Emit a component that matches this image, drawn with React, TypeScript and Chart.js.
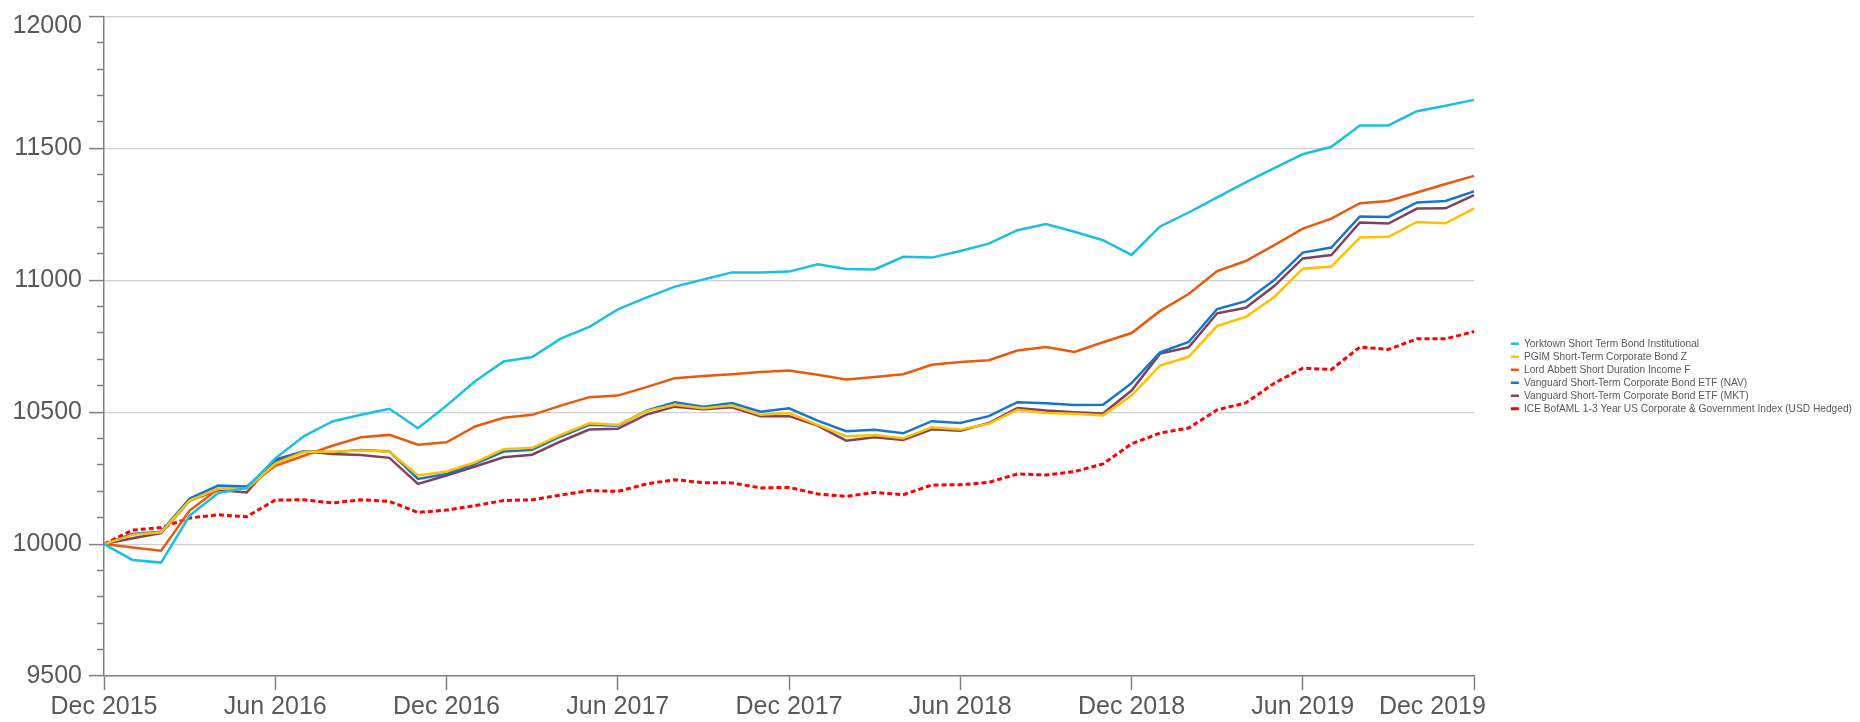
import React, { useEffect, useRef } from 'react';
import { Chart, registerables } from 'chart.js';

Chart.register(...registerables);

const MONTHS = [
  'Dec 2015',
  'Jan 2016', 'Feb 2016', 'Mar 2016', 'Apr 2016', 'May 2016', 'Jun 2016',
  'Jul 2016', 'Aug 2016', 'Sep 2016', 'Oct 2016', 'Nov 2016', 'Dec 2016',
  'Jan 2017', 'Feb 2017', 'Mar 2017', 'Apr 2017', 'May 2017', 'Jun 2017',
  'Jul 2017', 'Aug 2017', 'Sep 2017', 'Oct 2017', 'Nov 2017', 'Dec 2017',
  'Jan 2018', 'Feb 2018', 'Mar 2018', 'Apr 2018', 'May 2018', 'Jun 2018',
  'Jul 2018', 'Aug 2018', 'Sep 2018', 'Oct 2018', 'Nov 2018', 'Dec 2018',
  'Jan 2019', 'Feb 2019', 'Mar 2019', 'Apr 2019', 'May 2019', 'Jun 2019',
  'Jul 2019', 'Aug 2019', 'Sep 2019', 'Oct 2019', 'Nov 2019', 'Dec 2019',
];

const X_TICK_LABELS = ['Dec 2015', 'Jun 2016', 'Dec 2016', 'Jun 2017', 'Dec 2017', 'Jun 2018', 'Dec 2018', 'Jun 2019', 'Dec 2019'];

const Y_MIN = 9500;
const Y_MAX = 12000;
const Y_MAJOR = 500;
const Y_MINOR = 100;

const YORKTOWN = [
  10000, 9940, 9930, 10108, 10194, 10213, 10325, 10409, 10465, 10490, 10513, 10439,
  10525, 10617, 10692, 10709, 10779, 10823, 10890, 10934, 10976, 11003, 11030, 11030,
  11033, 11061, 11043, 11041, 11089, 11086, 11111, 11139, 11190, 11213, 11184, 11152,
  11096, 11204, 11257, 11314, 11371, 11425, 11478, 11506, 11587, 11587, 11641, 11662,
  11684,
];

const PGIM = [
  10000, 10035, 10045, 10165, 10210, 10210, 10305, 10350, 10350, 10355, 10350, 10260,
  10275, 10310, 10360, 10365, 10414, 10458, 10452, 10504, 10528, 10515, 10525, 10490,
  10497, 10452, 10409, 10414, 10401, 10443, 10434, 10456, 10509, 10497, 10494, 10488,
  10563, 10677, 10710, 10827, 10861, 10937, 11044, 11052, 11162, 11165, 11221, 11216,
  11273,
];

const LORD_ABBETT = [
  10000, 9987, 9975, 10127, 10209, 10213, 10297, 10335, 10373, 10405, 10414, 10377,
  10386, 10446, 10479, 10490, 10525, 10557, 10563, 10595, 10629, 10637, 10644, 10652,
  10658, 10642, 10624, 10633, 10644, 10680, 10690, 10697, 10734, 10747, 10728, 10765,
  10800, 10884, 10948, 11035, 11073, 11133, 11196, 11234, 11292, 11301, 11333, 11365,
  11396,
];

const VANGUARD_NAV = [
  10000, 10038, 10047, 10173, 10222, 10218, 10314, 10352, 10348, 10357, 10351, 10247,
  10266, 10304, 10351, 10358, 10408, 10452, 10449, 10506, 10538, 10521, 10535, 10502,
  10515, 10468, 10428, 10433, 10420, 10466, 10459, 10485, 10538, 10534, 10527, 10528,
  10610, 10727, 10766, 10891, 10921, 11001, 11105, 11124, 11242, 11240, 11295, 11301,
  11337,
];

const VANGUARD_MKT = [
  10000, 10022, 10042, 10165, 10205, 10196, 10320, 10352, 10342, 10338, 10327, 10228,
  10260, 10294, 10329, 10339, 10389, 10434, 10437, 10491, 10521, 10511, 10519, 10485,
  10485, 10449, 10392, 10405, 10395, 10435, 10430, 10459, 10516, 10506, 10500, 10495,
  10582, 10722, 10746, 10875, 10896, 10978, 11083, 11096, 11219, 11215, 11272, 11273,
  11323,
];

const ICE_INDEX = [
  10000, 10053, 10063, 10099, 10111, 10104, 10167, 10168, 10156, 10168, 10162, 10120,
  10129, 10146, 10165, 10168, 10186, 10203, 10200, 10228, 10244, 10233, 10232, 10213,
  10215, 10190, 10181, 10196, 10187, 10224, 10225, 10234, 10266, 10262, 10275, 10304,
  10380, 10421, 10440, 10509, 10535, 10610, 10667, 10662, 10747, 10738, 10778, 10778,
  10806,
];

const SERIES = [
  { label: 'Yorktown Short Term Bond Institutional', data: YORKTOWN, color: '#1cbfe2', dash: [] as number[] },
  { label: 'PGIM Short-Term Corporate Bond Z', data: PGIM, color: '#ffc000', dash: [] as number[] },
  { label: 'Lord Abbett Short Duration Income F', data: LORD_ABBETT, color: '#e85a0e', dash: [] as number[] },
  { label: 'Vanguard Short-Term Corporate Bond ETF (NAV)', data: VANGUARD_NAV, color: '#1676cc', dash: [] as number[] },
  { label: 'Vanguard Short-Term Corporate Bond ETF (MKT)', data: VANGUARD_MKT, color: '#80405f', dash: [] as number[] },
  { label: 'ICE BofAML 1-3 Year US Corporate & Government Index (USD Hedged)', data: ICE_INDEX, color: '#ff0000', dash: [5, 3] },
];

const FONT = '"Liberation Sans", Arial, Helvetica, sans-serif';
const TEXT_COLOR = '#595959';
const AXIS_COLOR = '#808080';
const GRID_COLOR = '#d0d0d0';

const LEGEND_DX = 34;
const LEGEND_DY = 7;

const legendShift = {
  id: 'legendShift',
  afterLayout(chart: any) {
    const lg = chart.legend;
    if (!lg) return;
    lg.left += LEGEND_DX;
    lg.right += LEGEND_DX;
    lg.top += LEGEND_DY;
    lg.bottom += LEGEND_DY;
  },
};

export default function App() {
  const canvasRef = useRef<HTMLCanvasElement | null>(null);

  useEffect(() => {
    document.body.style.margin = '0';
    const canvas = canvasRef.current;
    if (!canvas) return;

    const chart = new Chart(canvas, {
      type: 'line',
      data: {
        labels: MONTHS,
        datasets: SERIES.map((s) => ({
          label: s.label,
          data: s.data,
          borderColor: s.color,
          backgroundColor: s.color,
          borderWidth: s.dash.length ? 3 : 2.5,
          borderDash: s.dash,
          pointRadius: 0,
          pointHoverRadius: 0,
          tension: 0,
          fill: false,
        })),
      },
      options: {
        responsive: false,
        animation: false,
        layout: { padding: { top: 16.5, right: 32, bottom: 0, left: 0 } },
        plugins: {
          legend: {
            display: true,
            position: 'right',
            align: 'center',
            labels: {
              usePointStyle: true,
              pointStyle: 'line',
              pointStyleWidth: 8,
              boxHeight: 10,
              padding: 2.8,
              color: TEXT_COLOR,
              font: { family: FONT, size: 10.2 },
            },
          },
          tooltip: { enabled: false },
        },
        scales: {
          x: {
            type: 'category',
            grid: {
              drawOnChartArea: false,
              tickLength: 14,
              tickWidth: 1.5,
              tickColor: (ctx: any) =>
                X_TICK_LABELS.includes(MONTHS[ctx.index]) ? AXIS_COLOR : 'rgba(0,0,0,0)',
            },
            border: { color: AXIS_COLOR, width: 1.5 },
            ticks: {
              autoSkip: false,
              maxRotation: 0,
              minRotation: 0,
              padding: 2.5,
              color: TEXT_COLOR,
              font: { family: FONT, size: 25, lineHeight: 1.2 },
              callback: (_v: any, i: number) => {
                const m = MONTHS[i];
                if (!X_TICK_LABELS.includes(m)) return '';
                return i === MONTHS.length - 1 ? m + '            ' : m;
              },
            },
            afterFit: (s: any) => {
              s.height = 46;
            },
          },
          y: {
            min: Y_MIN,
            max: Y_MAX,
            grid: {
              color: (ctx: any) =>
                ctx.tick && ctx.tick.value % Y_MAJOR === 0 ? GRID_COLOR : 'rgba(0,0,0,0)',
              lineWidth: 1.2,
              tickLength: 15,
              tickWidth: 1.5,
              tickColor: AXIS_COLOR,
              tickBorderDash: (ctx: any) =>
                ctx.tick && ctx.tick.value % Y_MAJOR === 0 ? [] : [0, 8, 7, 100],
            },
            border: { color: AXIS_COLOR, width: 1.5 },
            ticks: {
              autoSkip: false,
              stepSize: Y_MINOR,
              padding: 7,
              color: TEXT_COLOR,
              font: (ctx: any) => ({
                family: FONT,
                size: 25,
                lineHeight: ctx.tick && ctx.tick.value === Y_MAX ? '19px' : 1.2,
              }),
              callback: (v: any) => {
                const n = Number(v);
                if (n % Y_MAJOR !== 0) return '';
                return n === Y_MAX ? ['', String(n)] : String(n);
              },
            },
            afterFit: (s: any) => {
              s.width = 104;
              s.paddingTop = 0;
              s.paddingBottom = 0;
            },
          },
        },
      } as any,
      plugins: [legendShift],
    });

    return () => {
      chart.destroy();
    };
  }, []);

  return (
    <div style={{ width: 1860, height: 722, background: '#ffffff' }}>
      <canvas ref={canvasRef} width={1860} height={722} style={{ display: 'block' }} />
    </div>
  );
}
